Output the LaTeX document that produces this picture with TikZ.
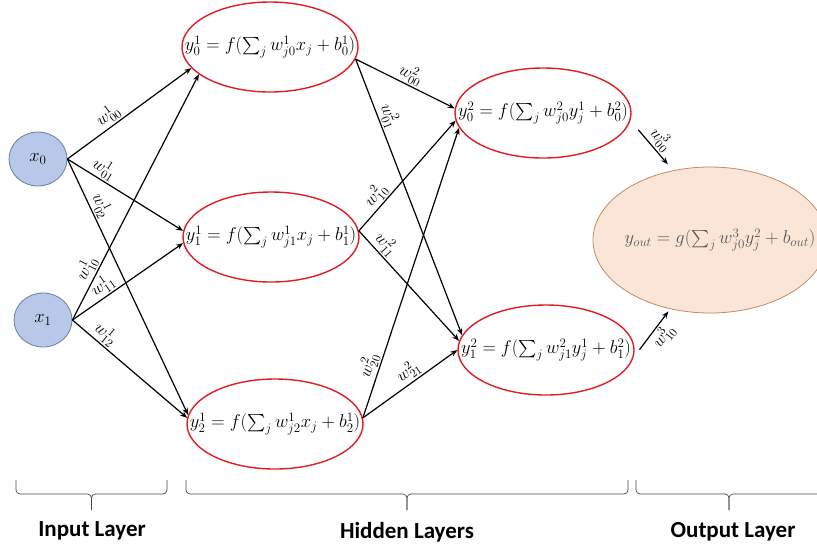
\RequirePackage{fix-cm}
\documentclass[tikz,border=0pt]{standalone}
\usepackage{amsmath}
\usepackage{fontspec}
\newfontfamily\layerfont{Carlito}
\definecolor{inblue}{RGB}{183,200,232}
\definecolor{inedge}{RGB}{105,125,165}
\definecolor{hidred}{RGB}{222,30,36}
\definecolor{outfill}{RGB}{251,229,214}
\definecolor{outedge}{RGB}{190,140,105}
\definecolor{bracegray}{RGB}{70,70,70}
\usetikzlibrary{arrows.meta, shapes.geometric, calc}

\begin{document}
\begin{tikzpicture}[x=1pt, y=-1pt,
  >={Stealth[length=7pt, width=5.5pt]},
  every node/.style={font=\fontsize{18.5}{21}\selectfont},
  inneuron/.style={
    ellipse, draw=inedge, fill=inblue, line width=0.8pt,
    minimum width=58pt, minimum height=54pt, inner sep=0pt,
  },
  hidneuron/.style={
    ellipse, draw=hidred, line width=1.4pt,
    minimum width=176pt, minimum height=90pt, inner sep=0pt,
  },
  outneuron/.style={
    ellipse, draw=outedge, fill=outfill, line width=0.8pt,
    minimum width=234pt, minimum height=146pt, inner sep=0pt,
    text=black!65,
  },
  arr/.style={->, line width=1.2pt},
  wlabel/.style={sloped, inner sep=1.5pt, font=\fontsize{17}{19}\selectfont},
  layerbrace/.style={draw=bracegray, line width=0.7pt, rounded corners=4pt},
  layerlabel/.style={font=\layerfont\bfseries\fontsize{23}{25}\selectfont},
]
\useasboundingbox (0,0) rectangle (817,550);

% --- Input Layer ---
\node[inneuron] (x0) at (38,159) {$x_0$};
\node[inneuron] (x1) at (43,320) {$x_1$};

% --- Hidden Layer 1 ---
\node[hidneuron] (h10) at (270,47) {\makebox[0pt]{$y_0^1 = f(\sum_j w_{j0}^1 x_j + b_0^1)$}};
\node[hidneuron] (h11) at (271,237) {\makebox[0pt]{$y_1^1 = f(\sum_j w_{j1}^1 x_j + b_1^1)$}};
\node[hidneuron] (h12) at (275,424) {\makebox[0pt]{$y_2^1 = f(\sum_j w_{j2}^1 x_j + b_2^1)$}};

% --- Hidden Layer 2 ---
\node[hidneuron] (h20) at (543,113) {\makebox[0pt]{$y_0^2 = f(\sum_j w_{j0}^2 y_j^1 + b_0^2)$}};
\node[hidneuron] (h21) at (546,350) {\makebox[0pt]{$y_1^2 = f(\sum_j w_{j1}^2 y_j^1 + b_1^2)$}};

% --- Output Layer ---
\node[outneuron] (out) at (710,240) {\makebox[0pt]{\hspace{20pt}$y_{out} = g(\sum_j w_{j0}^3 y_j^2 + b_{out})$}};

% --- Input -> Hidden 1 ---
\draw[arr] (x0.east) -- (h10.195) node[wlabel, pos=0.38, above] (w001) {$w_{00}^1$};
\draw[arr] (x0.east) -- (h11.176) node[wlabel, pos=0.27, above] (w011) {$w_{01}^1$};
\draw[arr] (x0.east) -- (h12.174) node[wlabel, pos=0.2, above] (w021) {$w_{02}^1$};
\draw[arr] (x1.east) -- (h10.201) node[wlabel, pos=0.19, above] (w101) {$w_{10}^1$};
\draw[arr] (x1.east) -- (h11.184) node[wlabel, pos=0.33, above] (w111) {$w_{11}^1$};
\draw[arr] (x1.east) -- (h12.176) node[wlabel, pos=0.23, above] (w121) {$w_{12}^1$};

% --- Hidden 1 -> Hidden 2 ---
\draw[arr] (h10.-8) -- (h20.177) node[wlabel, pos=0.51, above] (w002) {$w_{00}^2$};
\draw[arr] (h10.-8) -- (h21.170) node[wlabel, pos=0.22, above] (w012) {$w_{01}^2$};
\draw[arr] (h11.4) -- (h20.185) node[wlabel, pos=0.26, above] (w102) {$w_{10}^2$};
\draw[arr] (h11.4) -- (h21.174) node[wlabel, pos=0.19, above] (w112) {$w_{11}^2$};
\draw[arr] (h12.4) -- (h20.190) node[wlabel, pos=0.17, above] (w202) {$w_{20}^2$};
\draw[arr] (h12.4) -- (h21.180) node[wlabel, pos=0.55, above] (w212) {$w_{21}^2$};

% --- Hidden 2 -> Output ---
\draw[arr, shorten <=12pt, shorten >=8pt] (h20.-5) -- (out.118) node[wlabel, pos=0.52, above] (w003) {$w_{00}^3$};
\draw[arr, shorten <=10pt, shorten >=3pt] (h21.-5) -- (out.240) node[wlabel, pos=0.58, below] (w103) {$w_{10}^3$};

% --- Layer braces ---
\coordinate (inL) at (16,480);
\coordinate (inR) at (167,480);
\coordinate (hidL) at (186,480);
\coordinate (hidR) at (628,480);
\coordinate (outL) at (636,480);
\coordinate (outR) at (822,480);
\draw[layerbrace] (inL) |- ($(inL)!0.5!(inR)+(0,14)$) -- ++(0,16);
\draw[layerbrace] (inR) |- ($(inL)!0.5!(inR)+(0,14)$) -- ++(0,16);
\draw[layerbrace] (hidL) |- ($(hidL)!0.5!(hidR)+(0,14)$) -- ++(0,16);
\draw[layerbrace] (hidR) |- ($(hidL)!0.5!(hidR)+(0,14)$) -- ++(0,16);
\draw[layerbrace] (outL) |- ($(outL)!0.5!(outR)+(0,14)$) -- ++(0,16);
\draw[layerbrace] (outR) |- ($(outL)!0.5!(outR)+(0,14)$) -- ++(0,16);

% --- Layer labels ---
\node[layerlabel] (inlab) at (92,531) {Input Layer};
\node[layerlabel] (hidlab) at (407,532) {Hidden Layers};
\node[layerlabel] (outlab) at (733,532) {Output Layer};

\end{tikzpicture}
\end{document}
